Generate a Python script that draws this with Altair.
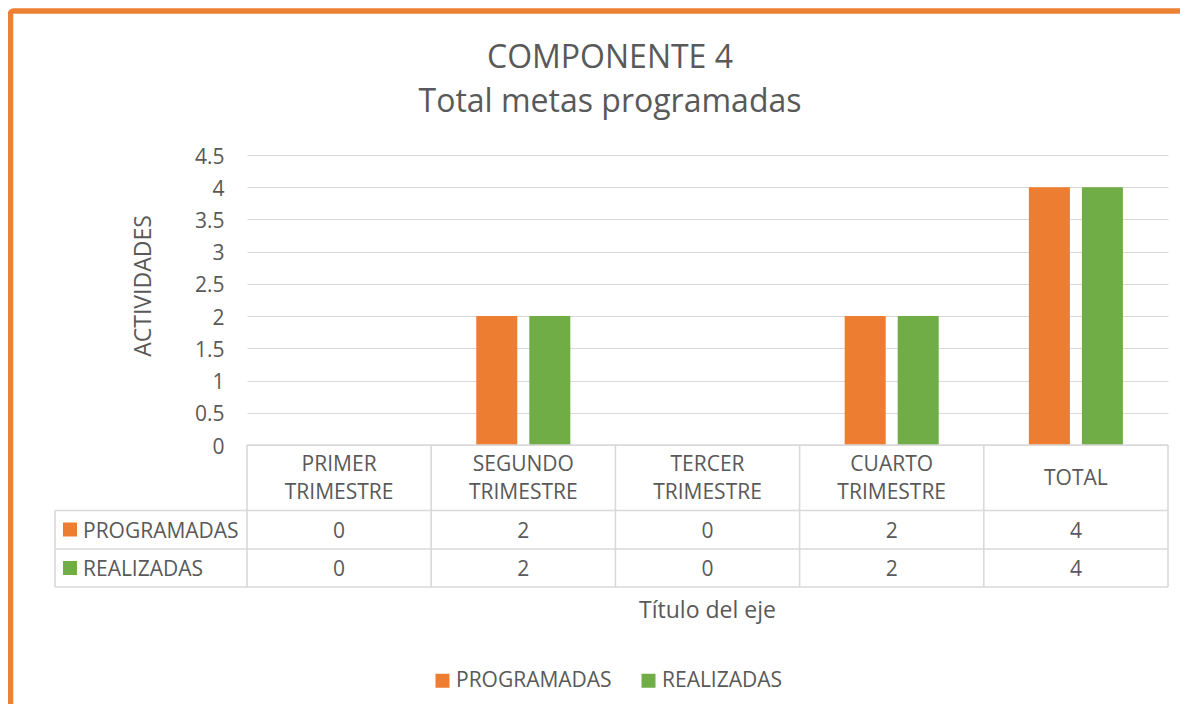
import altair as alt
import pandas as pd

# ---- data -------------------------------------------------------------
categorias = ["PRIMER TRIMESTRE", "SEGUNDO TRIMESTRE", "TERCER TRIMESTRE",
              "CUARTO TRIMESTRE", "TOTAL"]
encabezados = ["PRIMER\nTRIMESTRE", "SEGUNDO\nTRIMESTRE", "TERCER\nTRIMESTRE",
               "CUARTO\nTRIMESTRE", "TOTAL"]
series = ["PROGRAMADAS", "REALIZADAS"]
programadas = [0, 2, 0, 2, 4]
realizadas = [0, 2, 0, 2, 4]
colores = ["#ED7D31", "#70AD47"]
ticks_y = [0, 0.5, 1, 1.5, 2, 2.5, 3, 3.5, 4, 4.5]
titulo = ["COMPONENTE 4", "Total metas programadas"]
titulo_y = "ACTIVIDADES"
titulo_x = "Título del eje"

TXT = "#595959"
LINE = "#D9D9D9"
FONT = "Open Sans"

rows = []
for s, vals in zip(series, [programadas, realizadas]):
    for c, v in zip(categorias, vals):
        rows.append({"cat": c, "serie": s, "valor": v})
df = pd.DataFrame(rows)
df_head = pd.DataFrame({"cat": categorias, "label": encabezados})
df_series = pd.DataFrame({"serie": series})

W, H = 921, 290

xs = alt.X("cat:N", sort=categorias, axis=None,
           scale=alt.Scale(paddingInner=0, paddingOuter=0))
color = alt.Color("serie:N", sort=series,
                  scale=alt.Scale(domain=series, range=colores),
                  legend=alt.Legend(title=None, orient="none", direction="horizontal",
                                    legendX=185, legendY=515, symbolType="square",
                                    symbolSize=196, symbolStrokeWidth=0,
                                    labelFontSize=21, labelFont=FONT, labelColor=TXT,
                                    labelOffset=3, columnPadding=26, padding=0))

bars = alt.Chart(df).mark_bar().encode(
    x=xs,
    xOffset=alt.XOffset("serie:N", sort=series,
                        scale=alt.Scale(paddingInner=0.226, paddingOuter=0.85)),
    y=alt.Y("valor:Q",
            scale=alt.Scale(domain=[0, 4.5], nice=False, zero=True),
            axis=alt.Axis(values=ticks_y, format="~g", grid=True, gridColor=LINE,
                          gridWidth=1, domain=False, ticks=False, labelPadding=23,
                          labelOffset=2,
                          labelFontSize=21, labelFont=FONT, labelColor=TXT,
                          title=titulo_y, titleFontSize=23, titleFont=FONT,
                          titleFontWeight="normal", titleColor=TXT, titleAngle=270,
                          titleX=-103.5, titleY=130.5, titleBaseline="middle",
                          titleAlign="center")),
    color=color,
)

# table lines
vlines = alt.Chart(df_head).mark_rule(color=LINE, strokeWidth=1.6).encode(
    x=alt.X("cat:N", sort=categorias, bandPosition=0, axis=None),
    y=alt.value(290), y2=alt.value(432))
vline_end = alt.Chart(df_head).transform_filter(
    alt.datum.cat == categorias[-1]).mark_rule(color=LINE, strokeWidth=1.6).encode(
    x=alt.X("cat:N", sort=categorias, bandPosition=1, axis=None),
    y=alt.value(290), y2=alt.value(432))
vline_left = alt.Chart(df_series).transform_filter(
    alt.datum.serie == series[0]).mark_rule(color=LINE, strokeWidth=1.6).encode(
    x=alt.value(-192), y=alt.value(355.5), y2=alt.value(432))
hline_top = alt.Chart(df_series).transform_filter(
    alt.datum.serie == series[0]).mark_rule(color=LINE, strokeWidth=1.6).encode(
    x=alt.value(0), x2=alt.value(W), y=alt.value(290))
hlines = [alt.Chart(df_series).transform_filter(
    alt.datum.serie == series[0]).mark_rule(color=LINE, strokeWidth=1.6).encode(
    x=alt.value(-192), x2=alt.value(W), y=alt.value(yy)) for yy in (355.5, 394, 432)]

head_multi = alt.Chart(df_head).transform_filter(
    "indexof(datum.label, '\\n') >= 0").mark_text(
    fontSize=21, font=FONT, color=TXT, lineBreak="\n", lineHeight=28.5,
    baseline="middle").encode(x=xs, y=alt.value(309.5), text="label:N")
head_single = alt.Chart(df_head).transform_filter(
    "indexof(datum.label, '\\n') < 0").mark_text(
    fontSize=21, font=FONT, color=TXT, baseline="middle").encode(
    x=xs, y=alt.value(323.5), text="label:N")

row_y = {series[0]: 376.5, series[1]: 415}
cells = []
for s in series:
    cells.append(alt.Chart(df).transform_filter(alt.datum.serie == s).mark_text(
        fontSize=21, font=FONT, color=TXT, baseline="middle").encode(
        x=xs, y=alt.value(row_y[s]), text="valor:Q"))
    cells.append(alt.Chart(df_series).transform_filter(alt.datum.serie == s).mark_square(
        size=196, opacity=1, strokeWidth=0).encode(
        x=alt.value(-177), y=alt.value(row_y[s] - 2),
        color=alt.Color("serie:N", sort=series, scale=alt.Scale(domain=series, range=colores),
                        legend=None)))
    cells.append(alt.Chart(df_series).transform_filter(alt.datum.serie == s).mark_text(
        fontSize=21, font=FONT, color=TXT, baseline="middle", align="left").encode(
        x=alt.value(-164), y=alt.value(row_y[s]), text="serie:N"))

df_title = pd.DataFrame({"t": ["\n".join(titulo)]})
title = alt.Chart(df_title).mark_text(fontSize=32, font=FONT, color=TXT, lineBreak="\n",
                                      lineHeight=44, baseline="middle").encode(
    x=alt.value(363), y=alt.value(-97), text="t:N")

df_xt = pd.DataFrame({"t": [titulo_x]})
xtitle = alt.Chart(df_xt).mark_text(fontSize=23, font=FONT, color=TXT,
                                    baseline="middle").encode(
    x=alt.value(W / 2), y=alt.value(456), text="t:N")

frame = alt.Chart(df_xt).mark_rect(filled=False, stroke="#EE8033", strokeWidth=5.5,
                                   cornerRadius=3).encode(
    x=alt.value(-236.5), x2=alt.value(1000), y=alt.value(-144), y2=alt.value(600))

chart = alt.layer(
    frame, bars, vlines, vline_end, vline_left, hline_top, *hlines,
    head_multi, head_single, *cells, title, xtitle
).properties(
    width=W, height=H,
    autosize=alt.AutoSizeParams(type="none"),
    padding={"left": 239, "top": 147, "right": 12, "bottom": 259},
).configure_view(strokeWidth=0).resolve_scale(color="shared")

chart.save("out.html", embed_options={"renderer": "svg", "actions": False})
